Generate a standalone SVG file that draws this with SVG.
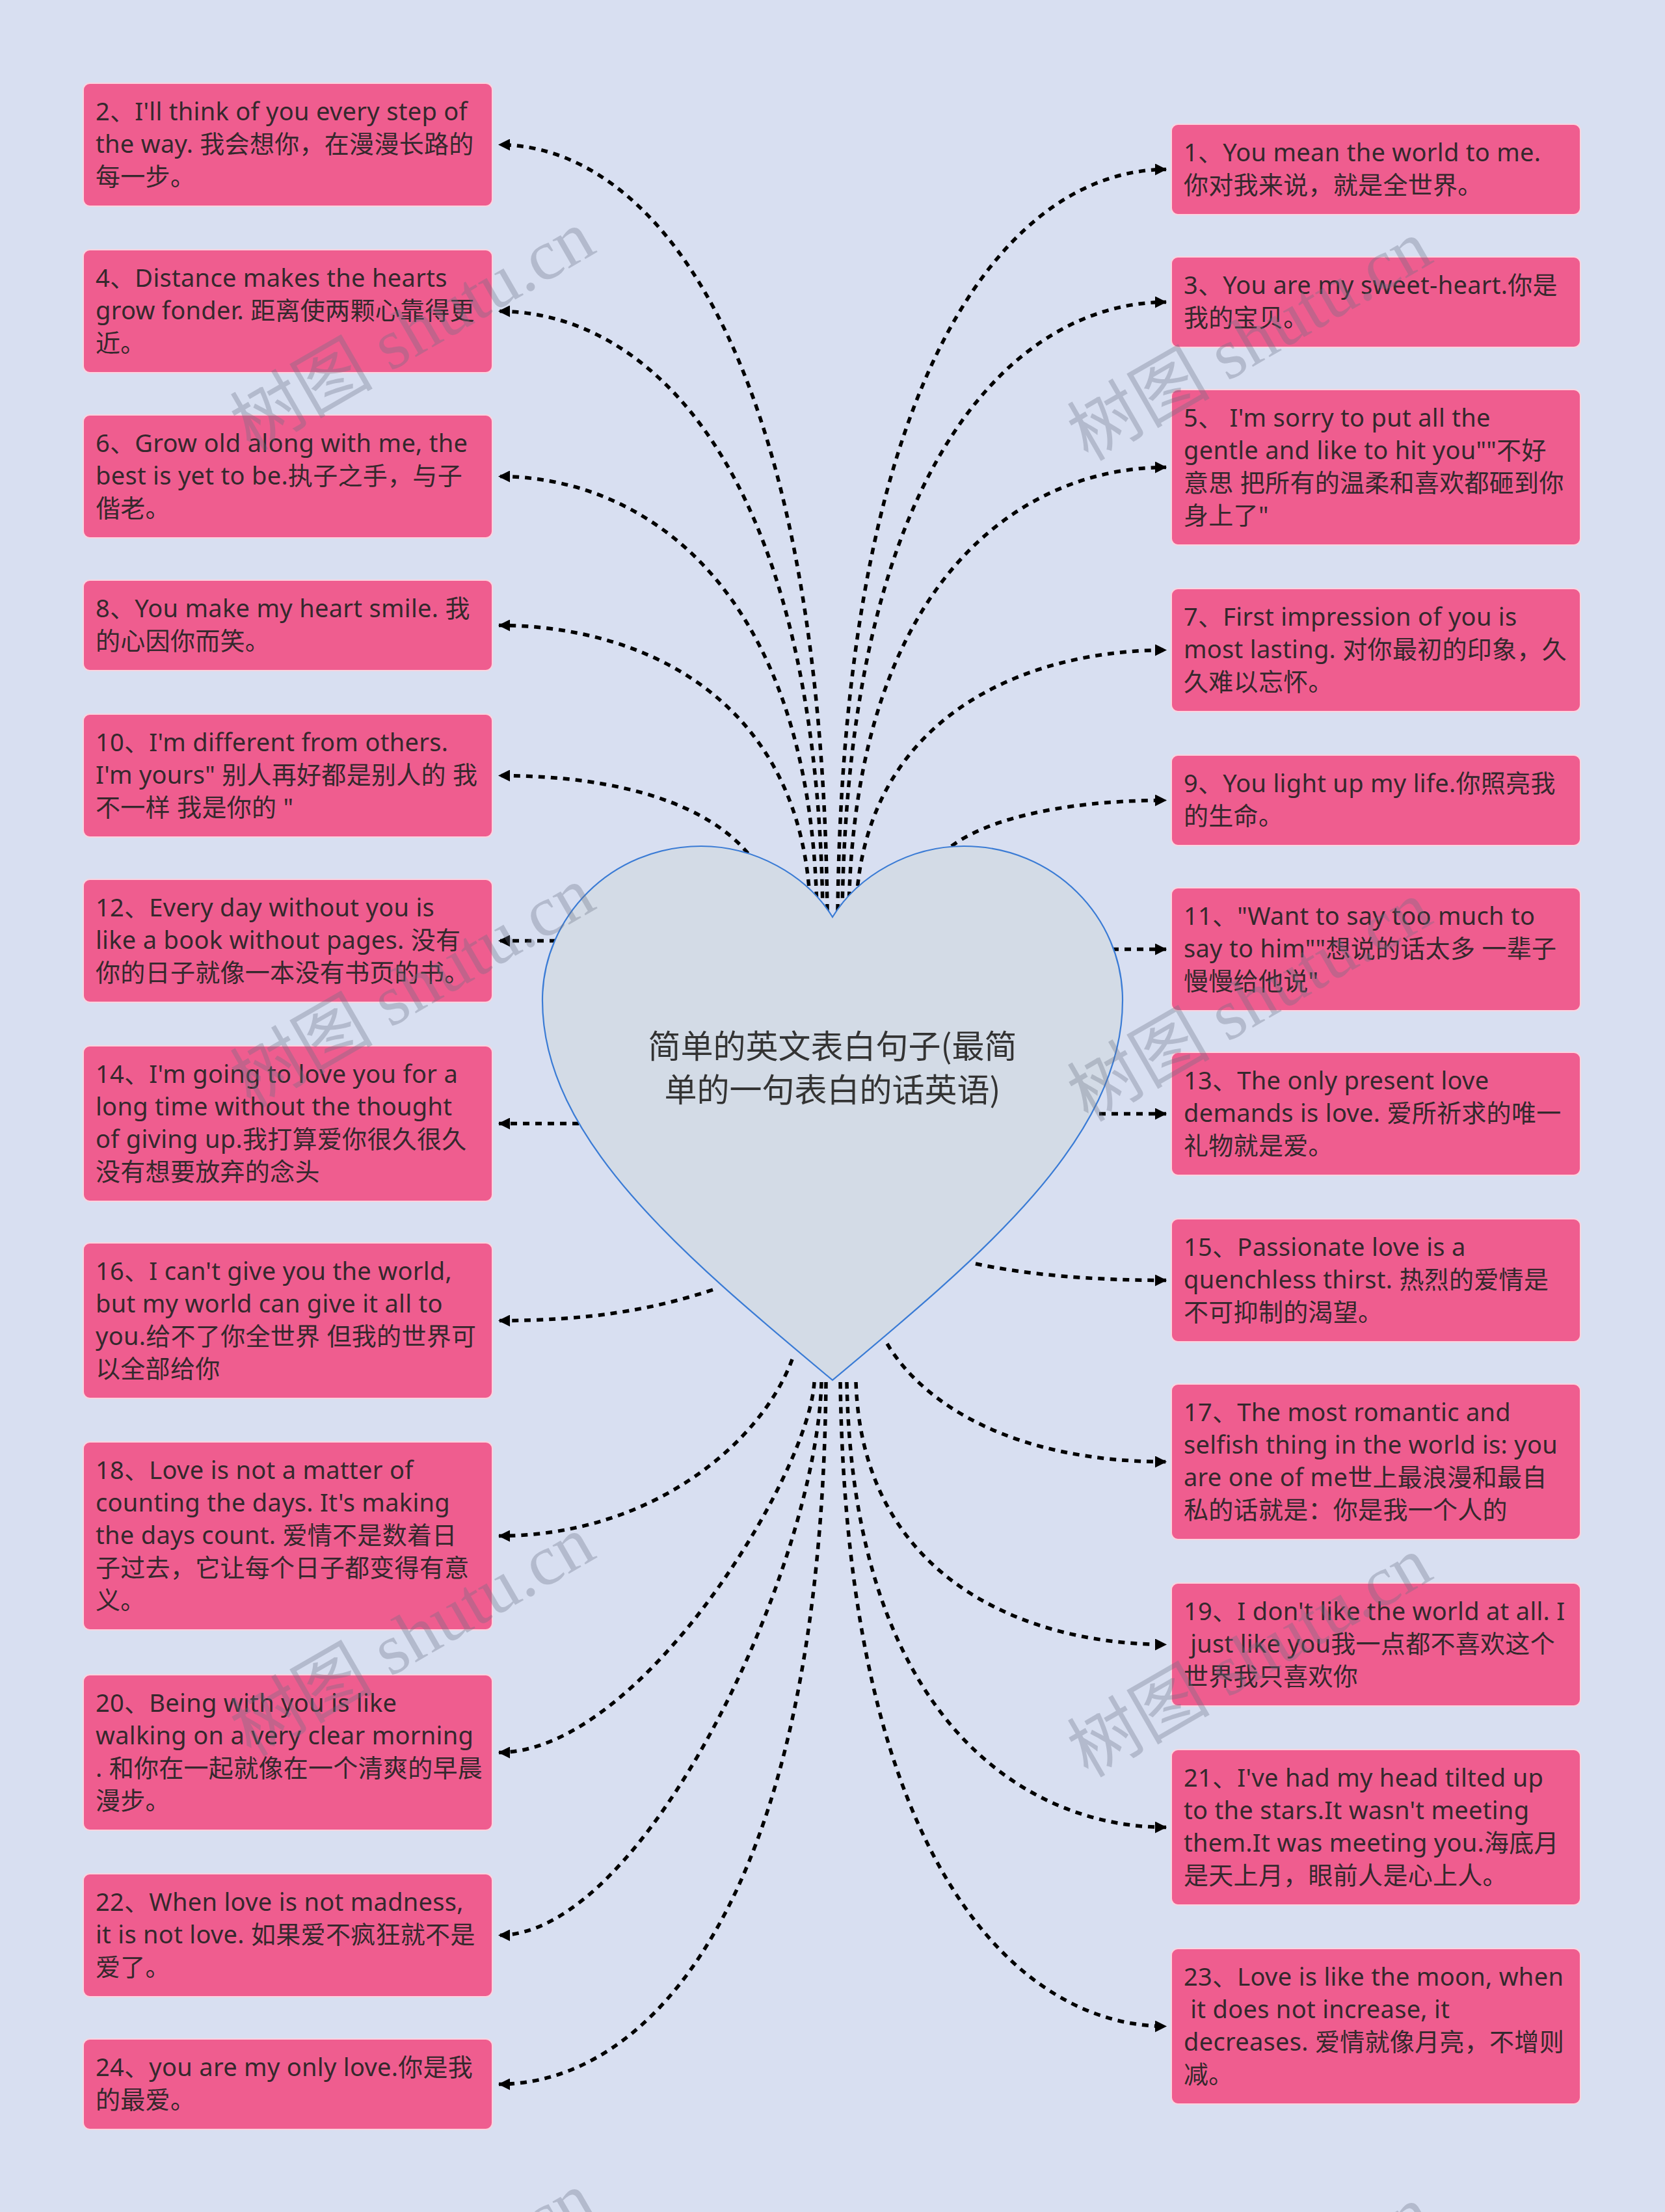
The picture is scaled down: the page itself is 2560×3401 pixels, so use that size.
<svg xmlns="http://www.w3.org/2000/svg" width="2560" height="3401" viewBox="0 0 2560 3401">
<defs>
<style>
.node rect{fill:#ef5d8f;stroke:#fbd3df;stroke-width:2}
.node text{font-family:"Noto Sans","Noto Sans CJK SC",sans-serif;font-size:38px;letter-spacing:0.3px;fill:#35282d}
.conn path{fill:none;stroke:#000;stroke-width:5.5;stroke-dasharray:10 9;marker-end:url(#arrow)}
.wm{font-family:"Liberation Serif","Noto Sans CJK SC",serif;font-size:110px;fill:#6a7285;opacity:.33;text-anchor:middle}
.title{font-family:"Noto Sans CJK SC",sans-serif;font-size:50px;fill:#333;text-anchor:middle}
</style>
<marker id="arrow" viewBox="0 0 18 18" refX="17" refY="9" markerWidth="18" markerHeight="18" markerUnits="userSpaceOnUse" orient="auto"><path d="M0,0 L18,9 L0,18 z" fill="#000"/></marker>
</defs>
<rect x="0" y="0" width="2560" height="3401" fill="#d8dff1"/>
<g id="connectors" class="conn">
<path d="M1272 1400 C1262 516.9 994 222.5 767 222.5"/>
<path d="M1265 1400 C1255 708.9 991 478.5 767 478.5"/>
<path d="M1256 1400 C1246 899.4 987 732.5 767 732.5"/>
<path d="M1246 1400 C1236 1071 982.6 961.5 767 961.5"/>
<path d="M1150 1312 C1090 1240 960 1192.5 767 1192.5"/>
<path d="M855 1446.5 L767 1446.5"/>
<path d="M890 1727.5 L767 1727.5"/>
<path d="M1096 1983 C1000 2015 900 2030.5 767 2030.5"/>
<path d="M1218 2090 C1170 2220 1000 2361.5 767 2361.5"/>
<path d="M1252 2125 C1244 2267 985 2694.5 767 2694.5"/>
<path d="M1263 2125 C1255 2413 991 2975.5 767 2975.5"/>
<path d="M1270 2125 C1262 2935 993 3204.5 767 3204.5"/>
<path d="M1288 1400 C1298 545 1563 260.5 1793 260.5"/>
<path d="M1295 1400 C1305 698 1570 464.5 1793 464.5"/>
<path d="M1305 1400 C1315 889 1573 718.5 1793 718.5"/>
<path d="M1316 1400 C1326 1100 1578 999.5 1793 999.5"/>
<path d="M1463 1301 C1510 1265 1620 1230.5 1793 1230.5"/>
<path d="M1710 1459.5 L1793 1459.5"/>
<path d="M1690 1712.5 L1793 1712.5"/>
<path d="M1500 1943 C1580 1960 1680 1968.5 1793 1968.5"/>
<path d="M1364 2066 C1420 2160 1560 2247.5 1793 2247.5"/>
<path d="M1316 2125 C1326 2428 1578 2528.5 1793 2528.5"/>
<path d="M1302 2125 C1312 2638 1572 2809.5 1793 2809.5"/>
<path d="M1292 2125 C1302 2868 1567 3115.5 1793 3115.5"/>
</g>
<g id="center">
<path d="M1280 1410 C1240 1345 1160 1301 1078 1301 C940 1301 834 1410 834 1538 C834 1750 1050 1930 1280 2122 C1510 1930 1726 1750 1726 1538 C1726 1410 1620 1301 1482 1301 C1400 1301 1320 1345 1280 1410 Z" fill="#d3dbe6" stroke="#3a7bd5" stroke-width="2.2"/>
<text class="title" x="1280" y="1627">简单的英文表白句子(最简</text>
<text class="title" x="1280" y="1694">单的一句表白的话英语)</text>
</g>
<g id="node-2" class="node"><rect x="128" y="128" width="629" height="189" rx="10"/><text><tspan x="147" y="185">2、I'll think of you every step of</tspan><tspan x="147" y="235">the way. 我会想你，在漫漫长路的</tspan><tspan x="147" y="285">每一步。</tspan></text></g>
<g id="node-4" class="node"><rect x="128" y="384" width="629" height="189" rx="10"/><text><tspan x="147" y="441">4、Distance makes the hearts</tspan><tspan x="147" y="491">grow fonder. 距离使两颗心靠得更</tspan><tspan x="147" y="541">近。</tspan></text></g>
<g id="node-6" class="node"><rect x="128" y="638" width="629" height="189" rx="10"/><text><tspan x="147" y="695">6、Grow old along with me, the</tspan><tspan x="147" y="745">best is yet to be.执子之手，与子</tspan><tspan x="147" y="795">偕老。</tspan></text></g>
<g id="node-8" class="node"><rect x="128" y="892" width="629" height="139" rx="10"/><text><tspan x="147" y="949">8、You make my heart smile. 我</tspan><tspan x="147" y="999">的心因你而笑。</tspan></text></g>
<g id="node-10" class="node"><rect x="128" y="1098" width="629" height="189" rx="10"/><text><tspan x="147" y="1155">10、I'm different from others.</tspan><tspan x="147" y="1205">I'm yours" 别人再好都是别人的 我</tspan><tspan x="147" y="1255">不一样 我是你的 "</tspan></text></g>
<g id="node-12" class="node"><rect x="128" y="1352" width="629" height="189" rx="10"/><text><tspan x="147" y="1409">12、Every day without you is</tspan><tspan x="147" y="1459">like a book without pages. 没有</tspan><tspan x="147" y="1509">你的日子就像一本没有书页的书。</tspan></text></g>
<g id="node-14" class="node"><rect x="128" y="1608" width="629" height="239" rx="10"/><text><tspan x="147" y="1665">14、I'm going to love you for a</tspan><tspan x="147" y="1715">long time without the thought</tspan><tspan x="147" y="1765">of giving up.我打算爱你很久很久</tspan><tspan x="147" y="1815">没有想要放弃的念头</tspan></text></g>
<g id="node-16" class="node"><rect x="128" y="1911" width="629" height="239" rx="10"/><text><tspan x="147" y="1968">16、I can't give you the world,</tspan><tspan x="147" y="2018">but my world can give it all to</tspan><tspan x="147" y="2068">you.给不了你全世界 但我的世界可</tspan><tspan x="147" y="2118">以全部给你</tspan></text></g>
<g id="node-18" class="node"><rect x="128" y="2217" width="629" height="289" rx="10"/><text><tspan x="147" y="2274">18、Love is not a matter of</tspan><tspan x="147" y="2324">counting the days. It's making</tspan><tspan x="147" y="2374">the days count. 爱情不是数着日</tspan><tspan x="147" y="2424">子过去，它让每个日子都变得有意</tspan><tspan x="147" y="2474">义。</tspan></text></g>
<g id="node-20" class="node"><rect x="128" y="2575" width="629" height="239" rx="10"/><text><tspan x="147" y="2632">20、Being with you is like</tspan><tspan x="147" y="2682">walking on a very clear morning</tspan><tspan x="147" y="2732">. 和你在一起就像在一个清爽的早晨</tspan><tspan x="147" y="2782">漫步。</tspan></text></g>
<g id="node-22" class="node"><rect x="128" y="2881" width="629" height="189" rx="10"/><text><tspan x="147" y="2938">22、When love is not madness,</tspan><tspan x="147" y="2988">it is not love. 如果爱不疯狂就不是</tspan><tspan x="147" y="3038">爱了。</tspan></text></g>
<g id="node-24" class="node"><rect x="128" y="3135" width="629" height="139" rx="10"/><text><tspan x="147" y="3192">24、you are my only love.你是我</tspan><tspan x="147" y="3242">的最爱。</tspan></text></g>
<g id="node-1" class="node"><rect x="1801" y="191" width="629" height="139" rx="10"/><text><tspan x="1820" y="248">1、You mean the world to me.</tspan><tspan x="1820" y="298">你对我来说，就是全世界。</tspan></text></g>
<g id="node-3" class="node"><rect x="1801" y="395" width="629" height="139" rx="10"/><text><tspan x="1820" y="452">3、You are my sweet-heart.你是</tspan><tspan x="1820" y="502">我的宝贝。</tspan></text></g>
<g id="node-5" class="node"><rect x="1801" y="599" width="629" height="239" rx="10"/><text><tspan x="1820" y="656">5、 I'm sorry to put all the</tspan><tspan x="1820" y="706">gentle and like to hit you""不好</tspan><tspan x="1820" y="756">意思 把所有的温柔和喜欢都砸到你</tspan><tspan x="1820" y="806">身上了"</tspan></text></g>
<g id="node-7" class="node"><rect x="1801" y="905" width="629" height="189" rx="10"/><text><tspan x="1820" y="962">7、First impression of you is</tspan><tspan x="1820" y="1012">most lasting. 对你最初的印象，久</tspan><tspan x="1820" y="1062">久难以忘怀。</tspan></text></g>
<g id="node-9" class="node"><rect x="1801" y="1161" width="629" height="139" rx="10"/><text><tspan x="1820" y="1218">9、You light up my life.你照亮我</tspan><tspan x="1820" y="1268">的生命。</tspan></text></g>
<g id="node-11" class="node"><rect x="1801" y="1365" width="629" height="189" rx="10"/><text><tspan x="1820" y="1422">11、"Want to say too much to</tspan><tspan x="1820" y="1472">say to him""想说的话太多 一辈子</tspan><tspan x="1820" y="1522">慢慢给他说"</tspan></text></g>
<g id="node-13" class="node"><rect x="1801" y="1618" width="629" height="189" rx="10"/><text><tspan x="1820" y="1675">13、The only present love</tspan><tspan x="1820" y="1725">demands is love. 爱所祈求的唯一</tspan><tspan x="1820" y="1775">礼物就是爱。</tspan></text></g>
<g id="node-15" class="node"><rect x="1801" y="1874" width="629" height="189" rx="10"/><text><tspan x="1820" y="1931">15、Passionate love is a</tspan><tspan x="1820" y="1981">quenchless thirst. 热烈的爱情是</tspan><tspan x="1820" y="2031">不可抑制的渴望。</tspan></text></g>
<g id="node-17" class="node"><rect x="1801" y="2128" width="629" height="239" rx="10"/><text><tspan x="1820" y="2185">17、The most romantic and</tspan><tspan x="1820" y="2235">selfish thing in the world is: you</tspan><tspan x="1820" y="2285">are one of me世上最浪漫和最自</tspan><tspan x="1820" y="2335">私的话就是：你是我一个人的</tspan></text></g>
<g id="node-19" class="node"><rect x="1801" y="2434" width="629" height="189" rx="10"/><text><tspan x="1820" y="2491">19、I don't like the world at all. I</tspan><tspan x="1820" y="2541">&#160;just like you我一点都不喜欢这个</tspan><tspan x="1820" y="2591">世界我只喜欢你</tspan></text></g>
<g id="node-21" class="node"><rect x="1801" y="2690" width="629" height="239" rx="10"/><text><tspan x="1820" y="2747">21、I've had my head tilted up</tspan><tspan x="1820" y="2797">to the stars.It wasn't meeting</tspan><tspan x="1820" y="2847">them.It was meeting you.海底月</tspan><tspan x="1820" y="2897">是天上月，眼前人是心上人。</tspan></text></g>
<g id="node-23" class="node"><rect x="1801" y="2996" width="629" height="239" rx="10"/><text><tspan x="1820" y="3053">23、Love is like the moon, when</tspan><tspan x="1820" y="3103">&#160;it does not increase, it</tspan><tspan x="1820" y="3153">decreases. 爱情就像月亮，不增则</tspan><tspan x="1820" y="3203">减。</tspan></text></g>
<g id="watermarks">
<text class="wm" transform="translate(634 508) rotate(-30)" y="38">树图 shutu.cn</text>
<text class="wm" transform="translate(634 1517) rotate(-30)" y="38">树图 shutu.cn</text>
<text class="wm" transform="translate(634 2515) rotate(-30)" y="38">树图 shutu.cn</text>
<text class="wm" transform="translate(634 3524) rotate(-30)" y="38">树图 shutu.cn</text>
<text class="wm" transform="translate(1921 523) rotate(-30)" y="38">树图 shutu.cn</text>
<text class="wm" transform="translate(1921 1539) rotate(-30)" y="38">树图 shutu.cn</text>
<text class="wm" transform="translate(1921 2547) rotate(-30)" y="38">树图 shutu.cn</text>
<text class="wm" transform="translate(1921 3545) rotate(-30)" y="38">树图 shutu.cn</text>
</g>
</svg>
